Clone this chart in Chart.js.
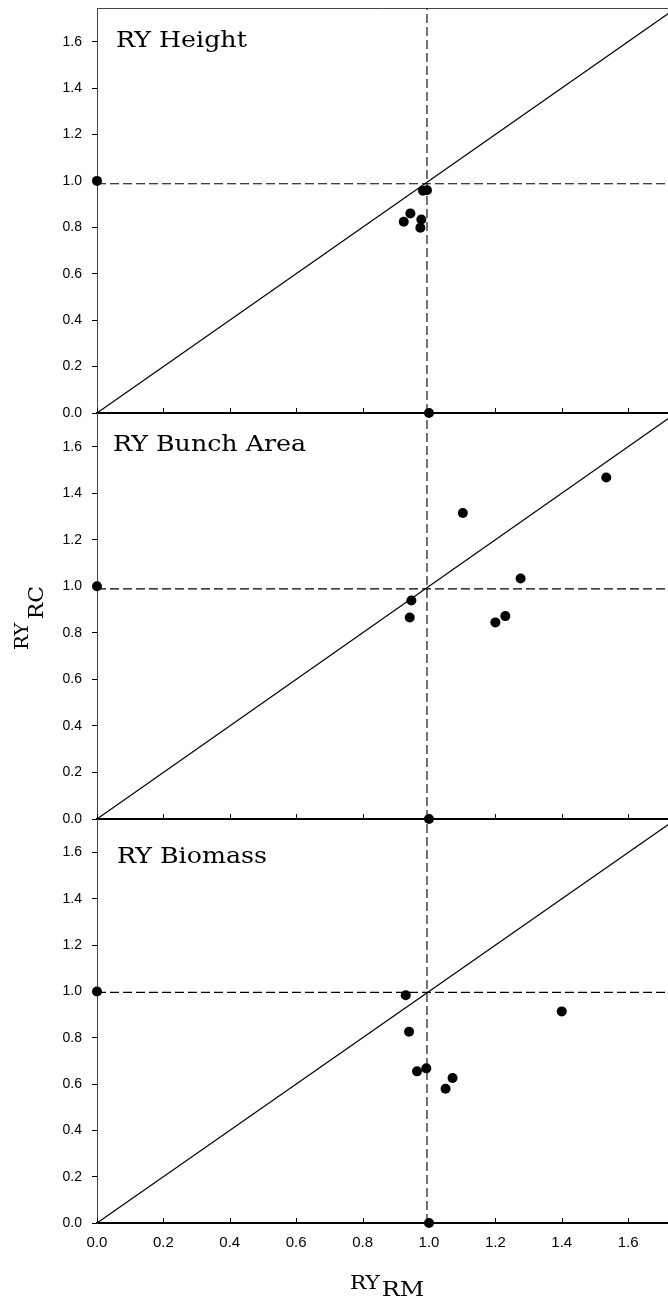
<!DOCTYPE html>
<html>
<head>
<meta charset="utf-8">
<script src="https://cdn.jsdelivr.net/npm/chart.js@4.4.1/dist/chart.umd.min.js"></script>
<style>
html,body{margin:0;padding:0;background:#fff;overflow:hidden;}
#wrap{position:relative;width:668px;height:1299px;background:#fff;}
canvas{position:absolute;left:0;}
</style>
</head>
<body>
<div id="wrap">
<canvas id="c1" width="668" height="420" style="top:0px;width:668px;height:420px"></canvas>
<canvas id="c2" width="668" height="421" style="top:405px;width:668px;height:421px"></canvas>
<canvas id="c3" width="668" height="488" style="top:811px;width:668px;height:488px"></canvas>
</div>
<script>
// ---------- data ----------
const xTickValues = [0, 0.2, 0.4, 0.6, 0.8, 1.0, 1.2, 1.4, 1.6];
const yTickValues = [0, 0.2, 0.4, 0.6, 0.8, 1.0, 1.2, 1.4, 1.6];
const xRange = [0, 1.72];
const yRange = [0, 1.745];

// monoculture reference points (RY_RM, RY_RC)
const anchorRM = [0, 1];
const anchorRC = [1, 0];

// 1:1 line
const oneToOneRM = [0, 2];
const oneToOneRC = [0, 2];

// Panel: RY Height
const heightRM = [0.982, 0.994, 0.944, 0.924, 0.977, 0.974];
const heightRC = [0.958, 0.960, 0.860, 0.824, 0.834, 0.798];
// Panel: RY Bunch Area
const bunchRM = [0.947, 0.942, 1.102, 1.534, 1.276, 1.200, 1.230];
const bunchRC = [0.939, 0.866, 1.315, 1.468, 1.034, 0.845, 0.872];
// Panel: RY Biomass
const biomassRM = [0.930, 0.940, 0.964, 0.992, 1.050, 1.071, 1.400];
const biomassRC = [0.984, 0.826, 0.655, 0.668, 0.580, 0.626, 0.914];

// dashed reference lines (RY_RC level per panel, shared RY_RM level)
const hLineRC = [0.988, 0.989, 0.996];
const vLineRM = 0.994;

const panelTitles = ['RY Height', 'RY Bunch Area', 'RY Biomass'];
const xAxisTitle = ['RY', 'RM'];
const yAxisTitle = ['RY', 'RC'];

// ---------- helpers ----------
const SERIF = '"DejaVu Serif", "Liberation Serif", serif';
const SANS = '"Liberation Sans", Arial, sans-serif';

function pts(xs, ys) { return xs.map((v, i) => ({x: v, y: ys[i]})); }

const framePlugin = {
  id: 'frame',
  beforeDatasetsDraw(chart, args, opts) {
    const {ctx, chartArea: {left, right, top, bottom}, scales: {x}} = chart;
    ctx.save();
    ctx.strokeStyle = '#000';
    ctx.lineWidth = 1;
    x.ticks.forEach(t => {
      const px = Math.round(x.getPixelForValue(t.value)) + 0.5;
      ctx.beginPath();
      ctx.moveTo(px, bottom);
      ctx.lineTo(px, bottom - 5);
      ctx.stroke();
    });
    if (opts.topBorder) {
      ctx.strokeStyle = '#444';
      ctx.beginPath();
      ctx.moveTo(left, Math.round(top) + 0.5);
      ctx.lineTo(right, Math.round(top) + 0.5);
      ctx.stroke();
    }
    ctx.restore();
  },
  afterDraw(chart, args, opts) {
    const {ctx, chartArea: {left, top}} = chart;
    ctx.save();
    ctx.fillStyle = '#000';
    ctx.textBaseline = 'alphabetic';
    ctx.textAlign = 'left';
    if (opts.label) {
      ctx.font = '23px ' + SERIF;
      ctx.translate(left + opts.labelDx, top + opts.labelDy);
      ctx.scale(1.1, 1);
      ctx.fillText(opts.label, 0, 0);
      ctx.setTransform(1, 0, 0, 1, 0, 0);
    }
    if (opts.yTitle) {
      const [main, sub] = opts.yTitle;
      ctx.translate(28.3, opts.yTitleY);
      ctx.rotate(-Math.PI / 2);
      ctx.scale(1.1, 1);
      ctx.font = '18px ' + SERIF;
      ctx.fillText(main, 0, 0);
      const w = ctx.measureText(main).width;
      ctx.font = '20px ' + SERIF;
      ctx.fillText(sub, w + 3, 15);
      ctx.setTransform(1, 0, 0, 1, 0, 0);
    }
    if (opts.xTitle) {
      const [main, sub] = opts.xTitle;
      ctx.translate(350, opts.xTitleY);
      ctx.scale(1.2, 1);
      ctx.font = '18px ' + SERIF;
      ctx.fillText(main, 0, 0);
      const w = ctx.measureText(main).width;
      ctx.font = '20px ' + SERIF;
      ctx.fillText(sub, w + 1.5, 7);
      ctx.setTransform(1, 0, 0, 1, 0, 0);
    }
    ctx.restore();
  }
};

function makePanel(canvasId, rm, rc, hLevel, opts) {
  const datasets = [
    {
      data: pts([xRange[0], 2], [hLevel, hLevel]),
      showLine: true, pointRadius: 0, borderColor: '#000', borderWidth: 1.1,
      borderDash: [9, 4], fill: false
    },
    {
      data: pts([vLineRM, vLineRM], [yRange[0], 2]),
      showLine: true, pointRadius: 0, borderColor: '#000', borderWidth: 1.1,
      borderDash: [9, 4], fill: false
    },
    {
      data: pts(oneToOneRM, oneToOneRC),
      showLine: true, pointRadius: 0, borderColor: '#000', borderWidth: 1.2, fill: false
    },
    {
      data: pts(anchorRM, anchorRC).concat(pts(rm, rc)),
      showLine: false, pointRadius: 5, pointBorderWidth: 0,
      pointBackgroundColor: '#000', pointBorderColor: '#000', clip: false
    }
  ];
  return new Chart(document.getElementById(canvasId), {
    type: 'scatter',
    data: {datasets},
    options: {
      responsive: false,
      maintainAspectRatio: false,
      devicePixelRatio: 1,
      animation: false,
      events: [],
      layout: {autoPadding: false, padding: {top: 8, left: 0, right: 0, bottom: 0}},
      plugins: {
        legend: {display: false},
        tooltip: {enabled: false},
        title: {display: false},
        frame: opts
      },
      scales: {
        x: {
          type: 'linear', min: xRange[0], max: xRange[1],
          afterBuildTicks: s => { s.ticks = xTickValues.map(v => ({value: v})); },
          afterFit: s => { s.height = opts.xHeight; s.paddingLeft = 0; s.paddingRight = 0; },
          grid: {display: false, drawTicks: false},
          border: {display: true, color: '#000', width: 2},
          ticks: {
            display: !!opts.xLabels, padding: 11, maxRotation: 0, autoSkip: false,
            color: '#000', font: {family: SANS, size: 15},
            callback: v => Number(v).toFixed(1)
          }
        },
        y: {
          type: 'linear', min: yRange[0], max: yRange[1],
          afterBuildTicks: s => { s.ticks = yTickValues.map(v => ({value: v})); },
          afterFit: s => { s.width = 97; s.paddingTop = 0; s.paddingBottom = 0; },
          grid: {display: true, drawOnChartArea: false, drawTicks: true, tickLength: 5, color: '#000', lineWidth: 1},
          border: {display: true, color: '#444', width: 1},
          ticks: {
            padding: 10, color: '#000', autoSkip: false,
            font: {family: SANS, size: 14},
            callback: v => Number(v).toFixed(1)
          }
        }
      }
    },
    plugins: [framePlugin]
  });
}

makePanel('c1', heightRM, heightRC, hLineRC[0], {
  xHeight: 7, topBorder: true, label: panelTitles[0], labelDx: 19, labelDy: 38.7
});
makePanel('c2', bunchRM, bunchRC, hLineRC[1], {
  xHeight: 7, label: panelTitles[1], labelDx: 16, labelDy: 38,
  yTitle: yAxisTitle, yTitleY: 245
});
makePanel('c3', biomassRM, biomassRC, hLineRC[2], {
  xHeight: 76, xLabels: true, label: panelTitles[2], labelDx: 20, labelDy: 43.7,
  xTitle: xAxisTitle, xTitleY: 478
});
</script>
</body>
</html>
